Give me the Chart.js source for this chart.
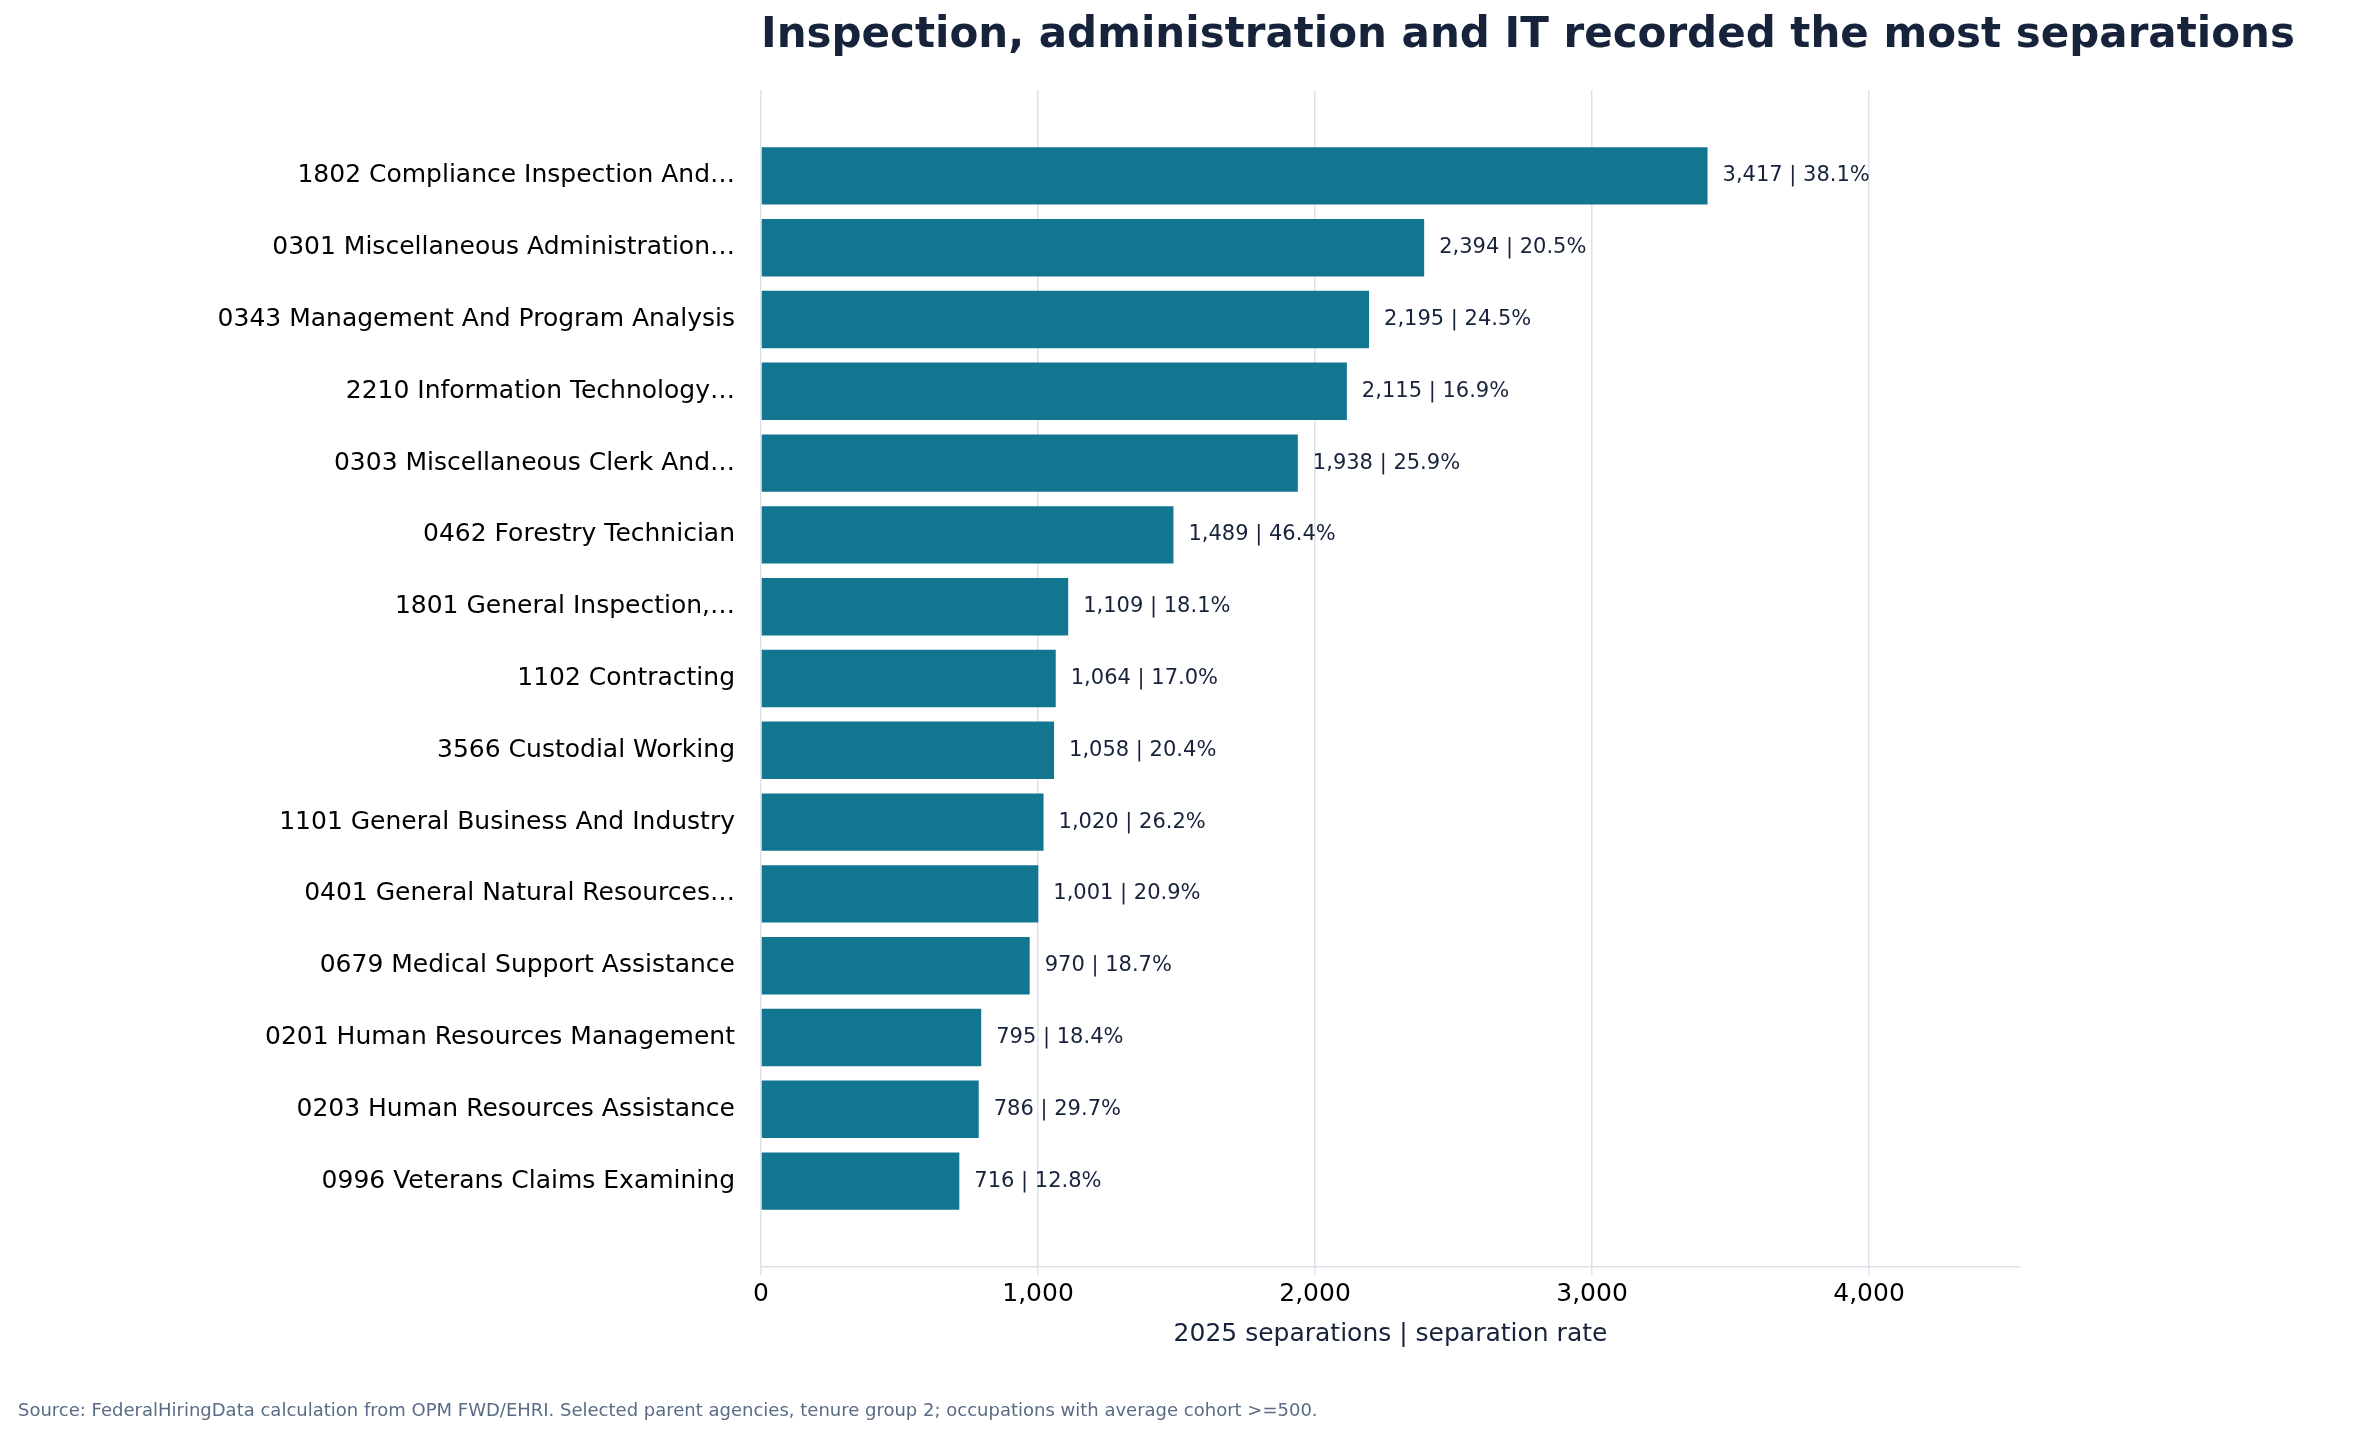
<!DOCTYPE html>
<html>
<head>
<meta charset="utf-8">
<script src="https://cdn.jsdelivr.net/npm/chart.js@4/dist/chart.umd.min.js"></script>
<style>
  html, body { margin: 0; padding: 0; background: #fff; }
  #wrap { width: 2358px; height: 1441px; }
</style>
</head>
<body>
<div id="wrap"><canvas id="chart"></canvas></div>
<script>
const occupations = [
  "1802 Compliance Inspection And\u2026",
  "0301 Miscellaneous Administration\u2026",
  "0343 Management And Program Analysis",
  "2210 Information Technology\u2026",
  "0303 Miscellaneous Clerk And\u2026",
  "0462 Forestry Technician",
  "1801 General Inspection,\u2026",
  "1102 Contracting",
  "3566 Custodial Working",
  "1101 General Business And Industry",
  "0401 General Natural Resources\u2026",
  "0679 Medical Support Assistance",
  "0201 Human Resources Management",
  "0203 Human Resources Assistance",
  "0996 Veterans Claims Examining"
];
const separations = [3417, 2394, 2195, 2115, 1938, 1489, 1109, 1064, 1058, 1020, 1001, 970, 795, 786, 716];
const sepRates = [38.1, 20.5, 24.5, 16.9, 25.9, 46.4, 18.1, 17.0, 20.4, 26.2, 20.9, 18.7, 18.4, 29.7, 12.8];
const xTicks = [0, 1000, 2000, 3000, 4000];

const title = "Inspection, administration and IT recorded the most separations";
const source = "Source: FederalHiringData calculation from OPM FWD/EHRI. Selected parent agencies, tenure group 2; occupations with average cohort >=500.";

const points = separations.map((v, i) => ({ x: v, y: i }));

// labels at bar ends, plus title and footer text
const extras = {
  id: "extras",
  afterDatasetsDraw(chart) {
    const c = chart.ctx;
    const meta = chart.getDatasetMeta(0);
    c.save();
    c.font = "21px 'DejaVu Sans'";
    c.fillStyle = "#16233b";
    c.textBaseline = "middle";
    meta.data.forEach((bar, i) => {
      const txt = separations[i].toLocaleString("en-US") + " | " + sepRates[i].toFixed(1) + "%";
      c.fillText(txt, bar.x + 15, bar.y);
    });
    c.restore();
  },
  afterDraw(chart) {
    const c = chart.ctx;
    c.save();
    c.font = "bold 42px 'DejaVu Sans'";
    c.fillStyle = "#16233b";
    c.textBaseline = "middle";
    c.fillText(title, chart.chartArea.left, 36);
    c.font = "18px 'DejaVu Sans'";
    c.fillStyle = "#5a6b85";
    c.fillText(source, 18, 1411);
    c.restore();
  }
};

new Chart(document.getElementById("chart"), {
  type: "bar",
  data: {
    datasets: [{
      data: points,
      backgroundColor: "#127691",
      barPercentage: 0.8,
      categoryPercentage: 1.0
    }]
  },
  options: {
    indexAxis: "y",
    responsive: true,
    maintainAspectRatio: false,
    animation: false,
    layout: { padding: { top: 90, right: 338, bottom: 88, left: 0 } },
    plugins: { legend: { display: false }, tooltip: { enabled: false } },
    scales: {
      x: {
        type: "linear",
        min: 0,
        max: 4545,
        z: 1,
        afterBuildTicks(scale) { scale.ticks = xTicks.map(v => ({ value: v })); },
        grid: { color: "#dde1ea", lineWidth: 1.5, drawTicks: true, tickLength: 8 },
        border: { color: "#dde1ea", width: 1.5 },
        ticks: { font: { family: "DejaVu Sans", size: 25 }, color: "#000", padding: 4 },
        title: {
          display: true,
          text: "2025 separations | separation rate",
          font: { family: "DejaVu Sans", size: 25 },
          color: "#16233b",
          padding: { top: 6 }
        }
      },
      y: {
        type: "linear",
        reverse: true,
        min: -0.65,
        max: 14.65,
        afterBuildTicks(scale) { scale.ticks = occupations.map((_, i) => ({ value: i })); },
        afterFit(scale) { scale.width = 761; },
        grid: { display: false },
        border: { display: false },
        ticks: {
          font: { family: "DejaVu Sans", size: 25 },
          color: "#000",
          padding: 18,
          callback: v => occupations[v] || ""
        }
      }
    }
  },
  plugins: [extras]
});
</script>
</body>
</html>
